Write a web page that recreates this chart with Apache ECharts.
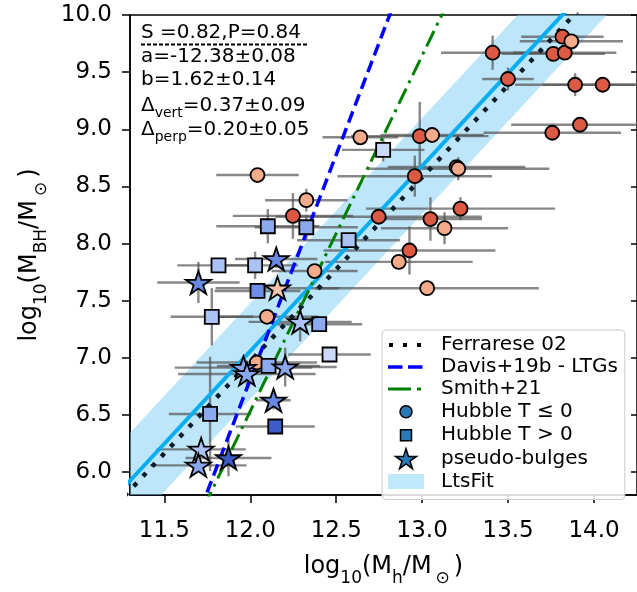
<!DOCTYPE html>
<html>
<head>
<meta charset="utf-8">
<script src="https://cdn.jsdelivr.net/npm/echarts@6/dist/echarts.min.js"></script>
<style>
  html, body { margin: 0; padding: 0; background: #ffffff; }
  #chart { width: 637px; height: 592px; }
</style>
</head>
<body>
<div id="chart"></div>
<script>
// Black-hole mass against dark-matter halo mass, with fit and literature relations.

const xTicks = [11.5, 12.0, 12.5, 13.0, 13.5, 14.0];
const yTicks = [6.0, 6.5, 7.0, 7.5, 8.0, 8.5, 9.0, 9.5, 10.0];

// Hubble T <= 0 galaxies (tone 0 = dark, 1 = light)
const circX    = [12.042, 12.326, 12.248, 12.374, 12.097, 12.038, 12.64, 12.986, 13.058, 12.747, 12.957, 13.20, 13.21, 13.223, 13.048, 13.13, 12.926, 12.864, 13.029, 13.41, 13.499, 13.757, 13.918, 13.89, 14.05, 13.763, 13.83, 13.816, 13.868];
const circY    = [8.60, 8.38, 8.243, 7.76, 7.36, 6.96, 8.93, 8.94, 8.95, 8.235, 8.59, 8.67, 8.655, 8.306, 8.215, 8.135, 7.94, 7.84, 7.61, 9.67, 9.44, 8.97, 9.04, 9.39, 9.39, 9.66, 9.67, 9.81, 9.77];
const circXErr = [0.24, 0.24, 0.35, 0.25, 0.30, 0.35, 0.22, 0.40, 0.30, 0.60, 0.45, 0.40, 0.53, 0.55, 0.30, 0.37, 0.50, 0.43, 0.65, 0.30, 0.15, 0.40, 0.40, 0.35, 0.35, 0.30, 0.30, 0.24, 0.30];
const circYErr = [0.00, 0.10, 0.20, 0.00, 0.00, 0.00, 0.00, 0.30, 0.00, 0.00, 0.18, 0.05, 0.10, 0.10, 0.19, 0.14, 0.21, 0.00, 0.00, 0.15, 0.10, 0.00, 0.00, 0.10, 0.00, 0.00, 0.05, 0.00, 0.00];
const circTone = [1, 1, 0, 1, 1, 1, 1, 0, 1, 0, 0, 0, 1, 0, 0, 1, 0, 1, 1, 0, 0, 0, 0, 0, 0, 0, 0, 0, 1];

// Hubble T > 0 galaxies (tone 0 = lightest ... 4 = darkest)
const sqX    = [12.773, 12.102, 12.326, 12.572, 11.815, 12.028, 12.042, 11.776, 12.401, 12.461, 12.106, 11.766, 12.145];
const sqY    = [8.82, 8.152, 8.143, 8.03, 7.81, 7.81, 7.586, 7.36, 7.295, 7.03, 6.93, 6.51, 6.40];
const sqXErr = [0.24, 0.30, 0.30, 0.30, 0.24, 0.25, 0.25, 0.24, 0.25, 0.24, 0.30, 0.24, 0.23];
const sqYErr = [0.10, 0.15, 0.11, 0.00, 0.00, 0.12, 0.00, 0.25, 0.00, 0.00, 0.00, 0.50, 0.00];
const sqTone = [0, 2, 2, 1, 1, 1, 3, 1, 2, 0, 2, 2, 4];

// Pseudo-bulges (tone 0..3 = blues, 4 = peach)
const starX    = [12.151, 11.698, 12.158, 12.29, 11.96, 11.98, 12.203, 12.135, 11.714, 11.698, 11.873];
const starY    = [7.866, 7.66, 7.61, 7.315, 6.915, 6.86, 6.92, 6.63, 6.20, 6.06, 6.125];
const starXErr = [0.24, 0.24, 0.36, 0.30, 0.40, 0.40, 0.30, 0.10, 0.26, 0.28, 0.25];
const starYErr = [0.08, 0.18, 0.00, 0.17, 0.10, 0.10, 0.17, 0.08, 0.00, 0.00, 0.16];
const starTone = [2, 2, 4, 0, 1, 1, 1, 2, 0, 1, 3];

// LtsFit parameters: value, uncertainty
const ltsA = [-12.38, 0.08];
const ltsB = [1.62, 0.14];
const ltsVert = [0.37, 0.09];
const ltsPerp = [0.20, 0.05];
const ltsCorr = [0.82, 0.84];   // Spearman, Pearson
const ltsBandHalf = [0.42];

// Literature relations: [pivot x, y at pivot, slope]
const ferrarese02 = [12.0, 6.97, 1.61];
const davis19b = [11.75, 5.83, 3.93];
const smith21 = [11.77, 5.82, 3.11];
const lineSpan = [11.0, 14.6];

const FONT = 'DejaVu Sans';
const circPalette = ['#dc5a44', '#f5ab8a'];
const sqPalette = ['#c9d9f7', '#abc2f4', '#8caaf0', '#6c8ee6', '#3d5cc5'];
const starPalette = ['#adc2f4', '#89a7ef', '#6889e2', '#3c5ac3', '#f3c6ab'];
const STAR = 'path://M100 0 L122.45 69.1 L195.11 69.1 L136.33 111.8 L158.78 180.9 L100 138.2 L41.22 180.9 L63.67 111.8 L4.89 69.1 L77.55 69.1 Z';

const relation = r => lineSpan.map(x => [x, r[1] + r[2] * (x - r[0])]);
const ltsLine = lineSpan.map(x => [x, ltsA[0] + ltsB[0] * x]);

function errorBars(xs, ys, xe, ye) {
  return {
    type: 'custom', silent: true, z: 3,
    data: xs.map((x, i) => [x, ys[i], xe[i], ye[i]]),
    encode: { x: 0, y: 1 },
    renderItem(params, api) {
      const x = api.value(0), y = api.value(1), dx = api.value(2), dy = api.value(3);
      const l = api.coord([x - dx, y]), r = api.coord([x + dx, y]);
      const style = { stroke: 'rgba(80,80,80,0.68)', lineWidth: 2.4 };
      const children = [{ type: 'line', shape: { x1: l[0], y1: l[1], x2: r[0], y2: r[1] }, style }];
      if (dy > 0) {
        const t = api.coord([x, y + dy]), b = api.coord([x, y - dy]);
        children.push({ type: 'line', shape: { x1: t[0], y1: t[1], x2: b[0], y2: b[1] }, style });
      }
      return { type: 'group', children };
    }
  };
}

const fmt = v => v.toFixed(2);
const pm = p => fmt(p[0]) + '±' + fmt(p[1]);

const chart = echarts.init(document.getElementById('chart'), null, { renderer: 'canvas' });

const axisNameStyle = {
  fontFamily: FONT, fontSize: 24, color: '#000', lineHeight: 40,
  rich: {
    sub: { fontFamily: FONT, fontSize: 17, lineHeight: 16, verticalAlign: 'bottom', color: '#000' },
    sun: { fontFamily: FONT, fontSize: 17, lineHeight: 18, verticalAlign: 'bottom', color: '#000', padding: [0, 4, 0, 4] }
  }
};

const markerLegendStyle = { color: '#2a78b5', borderColor: '#000', borderWidth: 1.5 };

chart.setOption({
  animation: false,
  backgroundColor: '#ffffff',
  grid: { left: 130, top: 15, right: 0, bottom: 87, show: true, borderColor: '#000', borderWidth: 1.5, backgroundColor: 'transparent' },
  xAxis: {
    type: 'value', min: 11.3, max: 14.25,
    name: 'log{sub|10}(M{sub|h}/M{sun|⊙})',
    nameLocation: 'middle', nameGap: 35, nameTextStyle: axisNameStyle,
    axisLine: { show: true, lineStyle: { color: '#000', width: 1.5 } },
    axisTick: { show: true, length: 8, customValues: xTicks, lineStyle: { color: '#000', width: 1.5 } },
    axisLabel: { customValues: xTicks, formatter: v => v.toFixed(1), fontFamily: FONT, fontSize: 23, color: '#000', margin: 24 },
    splitLine: { show: false }
  },
  yAxis: [{
    type: 'value', min: 5.8, max: 10.0,
    name: 'log{sub|10}(M{sub|BH}/M{sun|⊙})',
    nameLocation: 'middle', nameRotate: 90, nameGap: 78, nameTextStyle: axisNameStyle,
    axisLine: { show: true, lineStyle: { color: '#000', width: 1.5 } },
    axisTick: { show: true, length: 8, customValues: yTicks, lineStyle: { color: '#000', width: 1.5 } },
    axisLabel: { customValues: yTicks, formatter: v => v.toFixed(1), fontFamily: FONT, fontSize: 23, color: '#000', margin: 18 },
    splitLine: { show: false }
  }, {
    type: 'value', min: 5.8, max: 10.0, position: 'right',
    axisLine: { show: false },
    axisTick: { show: true, inside: true, length: 6, customValues: yTicks, lineStyle: { color: '#000', width: 1.5 } },
    axisLabel: { show: false },
    splitLine: { show: false }
  }],
  legend: {
    orient: 'vertical', left: 382, top: 330,
    padding: [4, 7, 7, 6], itemGap: 0, itemWidth: 36, itemHeight: 22,
    backgroundColor: 'rgba(255,255,255,0.85)', borderColor: '#cccccc', borderWidth: 1, borderRadius: 4,
    textStyle: { fontFamily: FONT, fontSize: 20, color: '#000', padding: [0, 0, 0, 12] },
    selectedMode: false,
    data: [
      { name: 'Ferrarese 02', icon: 'path://M0 0 M36 22 M1 9 L5 9 L5 13 L1 13 Z M15 9 L19 9 L19 13 L15 13 Z M29 9 L33 9 L33 13 L29 13 Z',
        itemStyle: { color: '#000', borderWidth: 0 } },
      { name: 'Davis+19b - LTGs', icon: 'path://M0 0 M36 22 M0 9.2 L14.5 9.2 L14.5 12.8 L0 12.8 Z M20 9.2 L34.5 9.2 L34.5 12.8 L20 12.8 Z',
        itemStyle: { color: '#0000ff', borderWidth: 0 } },
      { name: 'Smith+21', icon: 'path://M0 0 M36 22 M0 9.5 L23 9.5 L23 12.5 L0 12.5 Z M29 9.5 L33 9.5 L33 12.5 L29 12.5 Z',
        itemStyle: { color: '#008000', borderWidth: 0 } },
      { name: 'Hubble T ≤ 0', icon: 'path://M0 0 M22 22 M5 11 A6 6 0 1 1 17 11 A6 6 0 1 1 5 11 Z', itemStyle: markerLegendStyle },
      { name: 'Hubble T > 0', icon: 'path://M0 0 M22 22 M5.5 5.5 L16.5 5.5 L16.5 16.5 L5.5 16.5 Z', itemStyle: markerLegendStyle },
      { name: 'pseudo-bulges', icon: 'path://M0 0 M200 200 M100 9.5 L122.45 78.6 L195.11 78.6 L136.33 121.3 L158.78 190.4 L100 147.7 L41.22 190.4 L63.67 121.3 L4.89 78.6 L77.55 78.6 Z', itemStyle: markerLegendStyle },
      { name: 'LtsFit', icon: 'path://M0 0 M36 22 M0 3.5 L36 3.5 L36 18.5 L0 18.5 Z',
        itemStyle: { color: '#bfe8fb', borderWidth: 0 } }
    ]
  },
  graphic: [
    { type: 'text', x: 141, y: 33, style: { text: 'S =' + fmt(ltsCorr[0]) + ',P=' + fmt(ltsCorr[1]), fontFamily: FONT, fontSize: 20, fill: '#000', verticalAlign: 'middle' } },
    { type: 'line', shape: { x1: 141, y1: 44.5, x2: 308, y2: 44.5 }, style: { stroke: '#000', lineWidth: 2, lineDash: [4, 2] } },
    { type: 'text', x: 141, y: 57, style: { text: 'a=' + pm(ltsA), fontFamily: FONT, fontSize: 20, fill: '#000', verticalAlign: 'middle' } },
    { type: 'text', x: 141, y: 80, style: { text: 'b=' + pm(ltsB), fontFamily: FONT, fontSize: 20, fill: '#000', verticalAlign: 'middle' } },
    { type: 'text', x: 141, y: 106, style: { text: 'Δ{sub|vert}=' + pm(ltsVert), fontFamily: FONT, fontSize: 20, lineHeight: 28, fill: '#000', verticalAlign: 'middle',
        rich: { sub: { fontFamily: FONT, fontSize: 14, lineHeight: 14, verticalAlign: 'bottom', fill: '#000' } } } },
    { type: 'text', x: 141, y: 130, style: { text: 'Δ{sub|perp}=' + pm(ltsPerp), fontFamily: FONT, fontSize: 20, lineHeight: 28, fill: '#000', verticalAlign: 'middle',
        rich: { sub: { fontFamily: FONT, fontSize: 14, lineHeight: 14, verticalAlign: 'bottom', fill: '#000' } } } }
  ],
  series: [
    // LtsFit scatter band around the fitted relation
    { name: 'LtsFit', type: 'custom', silent: true, clip: true, z: 1,
      data: [[lineSpan[0], lineSpan[1]]],
      encode: { x: [0, 1] },
      itemStyle: { color: '#bfe8fb' },
      renderItem(params, api) {
        const x0 = api.value(0), x1 = api.value(1), h = ltsBandHalf[0];
        const f = x => ltsA[0] + ltsB[0] * x;
        const pts = [api.coord([x0, f(x0) + h]), api.coord([x1, f(x1) + h]),
                     api.coord([x1, f(x1) - h]), api.coord([x0, f(x0) - h])];
        const cs = params.coordSys;
        return { type: 'polygon', shape: { points: pts }, style: { fill: 'rgba(125,205,245,0.5)' },
                 clipPath: { type: 'rect', shape: { x: cs.x, y: cs.y, width: cs.width, height: cs.height } } };
      } },
    errorBars(circX, circY, circXErr, circYErr),
    errorBars(sqX, sqY, sqXErr, sqYErr),
    errorBars(starX, starY, starXErr, starYErr),
    { name: 'LtsFit line', type: 'line', silent: true, symbol: 'none', z: 4, data: ltsLine,
      lineStyle: { color: '#0aaef0', width: 4, type: 'solid' } },
    { name: 'Ferrarese 02', type: 'line', silent: true, symbol: 'none', z: 4, data: relation(ferrarese02),
      itemStyle: { color: '#0b1d2a' },
      lineStyle: { color: '#0b1d2a', width: 4.5, type: [4.5, 9], cap: 'butt' } },
    { name: 'Davis+19b - LTGs', type: 'line', silent: true, symbol: 'none', z: 4, data: relation(davis19b),
      itemStyle: { color: '#0000ff' },
      lineStyle: { color: '#0000ff', width: 3.5, type: [12, 6] } },
    { name: 'Smith+21', type: 'line', silent: true, symbol: 'none', z: 4, data: relation(smith21),
      itemStyle: { color: '#008000' },
      lineStyle: { color: '#008000', width: 3, type: [17, 6, 3, 6] } },
    { name: 'Hubble T ≤ 0', type: 'scatter', symbol: 'circle', symbolSize: 14, z: 5, silent: true,
      data: circX.map((x, i) => [x, circY[i], circTone[i]]),
      itemStyle: { color: p => circPalette[p.data[2]], borderColor: '#000', borderWidth: 1.8, opacity: 1 } },
    { name: 'Hubble T > 0', type: 'scatter', symbol: 'rect', symbolSize: 14, z: 6, silent: true,
      data: sqX.map((x, i) => [x, sqY[i], sqTone[i]]),
      itemStyle: { color: p => sqPalette[p.data[2]], borderColor: '#000', borderWidth: 1.8, opacity: 1 } },
    { name: 'pseudo-bulges', type: 'scatter', symbol: STAR, symbolSize: [25, 24], symbolKeepAspect: true, z: 7, silent: true,
      data: starX.map((x, i) => [x, starY[i], starTone[i]]),
      itemStyle: { color: p => starPalette[p.data[2]], borderColor: '#000', borderWidth: 1.8, opacity: 1 } }
  ]
});
</script>
</body>
</html>
